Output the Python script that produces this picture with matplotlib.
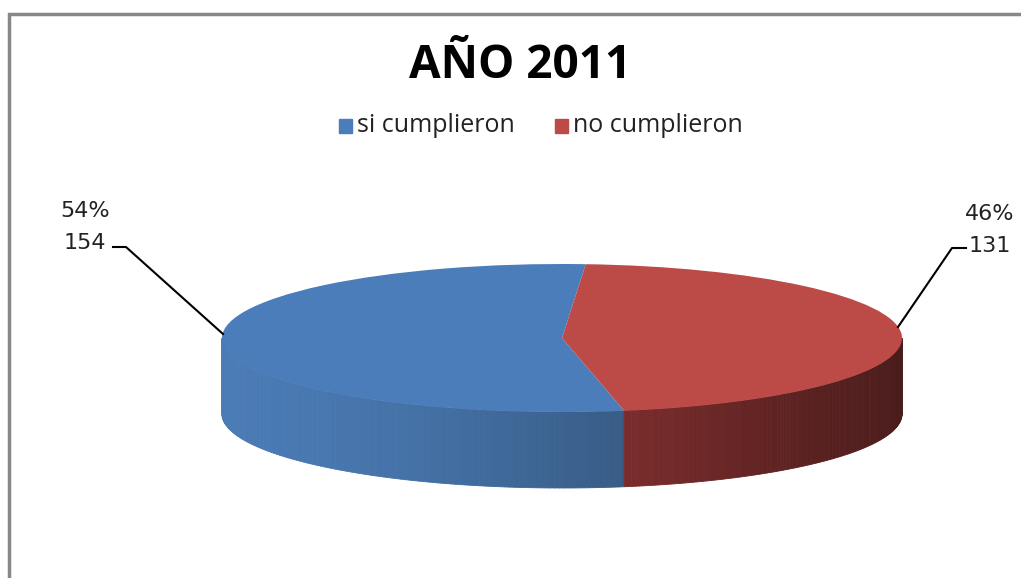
import numpy as np
import matplotlib
matplotlib.use("Agg")
import matplotlib.pyplot as plt
from matplotlib.patches import Polygon, Rectangle
from matplotlib.transforms import Affine2D
from matplotlib.colors import to_rgb

# data
categories = ["si cumplieron", "no cumplieron"]
values = [154, 131]
percent_labels = ["54%", "46%"]
title = "AÑO 2011"

top_colors = ["#4A7DBA", "#BC4B48"]
side_light = ["#4A7BB5", "#7A2C2C"]
side_dark = ["#375B85", "#4A1C1B"]

W, H = 1021, 578
fig = plt.figure(figsize=(W / 100, H / 100), dpi=100)
ax = fig.add_axes([0, 0, 1, 1])
ax.set_xlim(0, W)
ax.set_ylim(0, H)
ax.axis("off")

# chart frame
ax.add_patch(Rectangle((9, -10), W + 20, H - 14 + 10, fill=False,
                       edgecolor="#888888", linewidth=2.5))

# pie geometry (pixels, y up)
cx, cy = 562, H - 338
a, b = 340, 74
depth = 76
start = 86

fracs = np.array(values) / np.sum(values)
angles = start + 360 * np.concatenate([[0], np.cumsum(fracs)])

# side walls (front half only), drawn as thin shaded strips
for i in range(len(values)):
    t0, t1 = angles[i], angles[i + 1]
    segs = []
    for off in (-360, 0, 360):
        s0, s1 = max(t0, 180 + off), min(t1, 360 + off)
        if s1 > s0:
            segs.append((s0, s1))
    c_l = np.array(to_rgb(side_light[i]))
    c_d = np.array(to_rgb(side_dark[i]))
    for s0, s1 in segs:
        th = np.linspace(np.radians(s0), np.radians(s1), 120)
        for k in range(len(th) - 1):
            xs = cx + a * np.cos(th[k:k + 2])
            ys = cy + b * np.sin(th[k:k + 2])
            u = (0.5 * (xs[0] + xs[1]) - (cx - a)) / (2 * a)
            if i == 0:
                f = np.clip(u / 0.6, 0, 1) ** 1.5
            else:
                f = np.clip((u - 0.6) / 0.4, 0, 1)
            col = c_l * (1 - f) + c_d * f
            pts = [(xs[0], ys[0]), (xs[1], ys[1]),
                   (xs[1], ys[1] - depth), (xs[0], ys[0] - depth)]
            ax.add_patch(Polygon(pts, closed=True, facecolor=col,
                                 edgecolor=col, linewidth=0.6))

# top face from the library's pie, squashed into an ellipse
wedges, _ = ax.pie(values, colors=top_colors, startangle=start,
                   counterclock=True, radius=1, center=(0, 0),
                   wedgeprops=dict(linewidth=0))
squash = Affine2D().scale(a, b).translate(cx, cy) + ax.transData
for w in wedges:
    w.set_transform(squash)
ax.set_xlim(0, W)
ax.set_ylim(0, H)
ax.set_aspect("auto")

# data labels with leader lines
lab_font = dict(family="DejaVu Sans", fontsize=16, color="#222222")
ax.text(85, H - 211, percent_labels[0], ha="center", va="center", **lab_font)
ax.text(85, H - 243, str(values[0]), ha="center", va="center", **lab_font)
ax.plot([113, 126, 223], [H - 247, H - 247, H - 334], color="black", lw=1.5)

ax.text(990, H - 214, percent_labels[1], ha="center", va="center", **lab_font)
ax.text(990, H - 246, str(values[1]), ha="center", va="center", **lab_font)
ax.plot([966, 952, 898], [H - 248, H - 248, H - 327], color="black", lw=1.5)

# title
ax.text(520, H - 66, title, ha="center", va="center", fontsize=33,
        fontweight="bold", family="Open Sans", color="black")

# legend
leg_y = H - 126
ax.add_patch(Rectangle((339, leg_y - 7), 13, 14, color=top_colors[0]))
ax.text(357, leg_y, categories[0], ha="left", va="center",
        fontsize=18, family="Open Sans", color="#222222")
ax.add_patch(Rectangle((555, leg_y - 7), 13, 14, color=top_colors[1]))
ax.text(573, leg_y, categories[1], ha="left", va="center",
        fontsize=18, family="Open Sans", color="#222222")

fig.savefig("out.png", dpi=100)
